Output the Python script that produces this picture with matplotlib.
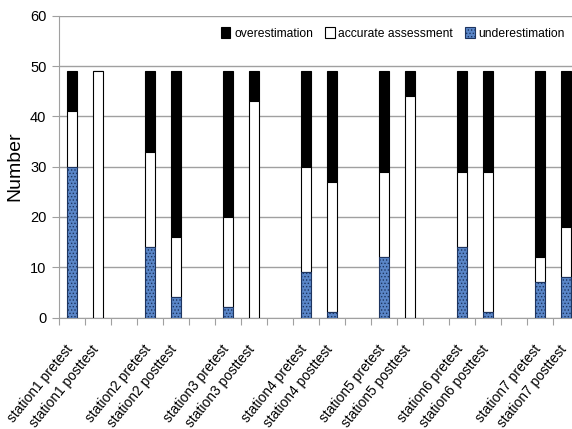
import matplotlib
matplotlib.use("Agg")
import matplotlib.pyplot as plt
import numpy as np

plt.rcParams['font.family'] = ['Liberation Sans', 'DejaVu Sans']
plt.rcParams['hatch.linewidth'] = 0.6

categories = ["station1 pretest", "station1 posttest",
              "station2 pretest", "station2 posttest",
              "station3 pretest", "station3 posttest",
              "station4 pretest", "station4 posttest",
              "station5 pretest", "station5 posttest",
              "station6 pretest", "station6 posttest",
              "station7 pretest", "station7 posttest"]
underestimation = [30, 0, 14, 4, 2, 0, 9, 1, 12, 0, 14, 1, 7, 8]
accurate = [11, 49, 19, 12, 18, 43, 21, 26, 17, 44, 15, 28, 5, 10]
overestimation = [8, 0, 16, 33, 29, 6, 19, 22, 20, 5, 20, 20, 37, 31]

fig = plt.figure(figsize=(5.72, 4.29), dpi=100)
ax = fig.add_axes([59/572, (429-317.5)/429, 1 - 59/572, (317.5-15.7)/429])

x = np.array([3*(i//2) + (i % 2) for i in range(len(categories))], dtype=float)
w = 0.42
under = np.array(underestimation)
acc = np.array(accurate)
over = np.array(overestimation)

b3 = ax.bar(x, over, w, bottom=under+acc, color='black', edgecolor='black', linewidth=0.8,
            label='overestimation', zorder=3)
b2 = ax.bar(x, acc, w, bottom=under, color='white', edgecolor='black', linewidth=0.8,
            label='accurate assessment', zorder=3)
b1 = ax.bar(x, under, w, color='#5a86c8', edgecolor='#1e3560', linewidth=0.8, hatch='.....',
            label='underestimation', zorder=3)

ax.set_ylim(0, 60)
ax.set_yticks(range(0, 61, 10))
ax.set_xlim(-0.5, 19.23)
ax.set_xticks(np.arange(-0.5, 19.3, 1.0))
ax.set_xticklabels([])
ax.yaxis.grid(True, color='#a0a0a0', linewidth=1.0, zorder=0)
for s in ['top', 'right']:
    ax.spines[s].set_visible(False)
ax.spines['left'].set_color('#a0a0a0')
ax.spines['bottom'].set_color('#a0a0a0')
ax.tick_params(axis='x', length=5, color='#a0a0a0', direction='out')
ax.tick_params(axis='y', length=5, color='#a0a0a0', direction='out', labelsize=10.5, pad=4)
ax.set_ylabel('Number', fontsize=14, labelpad=5)

for xi, lab in zip(x, categories):
    ax.text(xi - 0.28, -5.0, lab, rotation=51, ha='right', va='top', rotation_mode='anchor',
            fontsize=10, transform=ax.transData, clip_on=False)

leg = ax.legend(handles=[b3, b2, b1], loc='upper right', ncol=3, frameon=False, fontsize=8.7,
                bbox_to_anchor=(1.0, 0.985), handlelength=0.8, handleheight=1.0,
                handletextpad=0.3, columnspacing=1.0, borderaxespad=0.2)

fig.savefig('out.png', dpi=100)
